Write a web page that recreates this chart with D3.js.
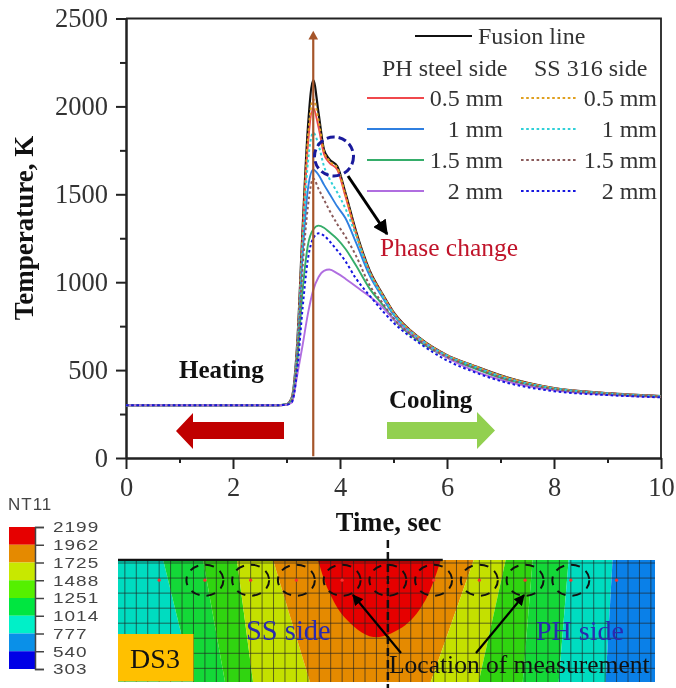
<!DOCTYPE html>
<html>
<head>
<meta charset="utf-8">
<script src="https://cdn.jsdelivr.net/npm/d3@7"></script>
<style>
  html, body { margin: 0; padding: 0; background: #fff; }
  svg { display: block; filter: blur(0.45px); font-family: "Liberation Serif", serif; }
</style>
</head>
<body>
<div id="chart"></div>
<script>
// Values
const time = [0, 2.8, 3.0, 3.1, 3.2, 3.3, 3.4, 3.5, 3.6, 3.7, 3.8, 3.95, 4.1, 4.3, 4.55, 4.8, 5.0, 5.5, 6, 6.5, 7, 8, 9, 10];
const fusion = [300, 300, 305, 345, 650, 1300, 1880, 2150, 1960, 1755, 1700, 1660, 1510, 1290, 1070, 930, 830, 680, 585, 525, 470, 398, 369, 352];
const ph05 = [300, 300, 305, 340, 630, 1250, 1780, 1990, 1880, 1730, 1680, 1640, 1490, 1275, 1062, 925, 826, 678, 584, 524, 468, 397, 368, 351];
const ph1 = [300, 300, 305, 335, 600, 1150, 1530, 1640, 1610, 1555, 1505, 1430, 1365, 1225, 1040, 910, 815, 672, 580, 520, 462, 395, 367, 350];
const ph15 = [300, 300, 304, 325, 540, 950, 1210, 1300, 1322, 1310, 1285, 1245, 1190, 1095, 965, 870, 790, 660, 572, 512, 456, 392, 365, 349];
const ph2 = [300, 300, 303, 315, 470, 640, 820, 955, 1030, 1065, 1072, 1050, 1020, 975, 920, 855, 790, 670, 570, 497, 445, 385, 360, 347];
const ss05 = [300, 300, 305, 343, 640, 1270, 1820, 2040, 1920, 1745, 1690, 1650, 1500, 1280, 1065, 927, 828, 679, 584, 524, 469, 397, 368, 351];
const ss1 = [300, 300, 305, 338, 620, 1210, 1680, 1850, 1780, 1660, 1590, 1510, 1420, 1265, 1055, 920, 822, 676, 582, 522, 465, 396, 367, 350];
const ss15 = [300, 300, 305, 330, 580, 1080, 1430, 1590, 1530, 1470, 1410, 1330, 1260, 1150, 985, 880, 795, 665, 575, 515, 458, 392, 365, 349];
const ss2 = [300, 300, 303, 318, 500, 850, 1130, 1250, 1278, 1265, 1235, 1180, 1120, 1020, 925, 835, 770, 650, 555, 490, 438, 380, 358, 345];

const distLabels = ["0.5 mm", "1 mm", "1.5 mm", "2 mm"];
const phColors = ["#f0484c", "#2f7fe0", "#35ad6a", "#b06ee0"];
const ssColors = ["#e0a020", "#30d0d8", "#8a5a5a", "#1515e0"];

const nt11Levels = [2199, 1962, 1725, 1488, 1251, 1014, 777, 540, 303];
const nt11Colors = ["#e60000", "#e58a00", "#c8e800", "#55f000", "#00e640", "#00f0c8", "#0a90e8", "#0000e6"];

// contour boundaries across the plate (mm from weld centre), top and bottom edge, left to right
const bandColors = ["#00dcc0", "#14d838", "#30d410", "#c4e000", "#e58a00", "#c4e000", "#30d410", "#14d838", "#00dcc0", "#0a80e8"];
const bandTop = [-2.95, -2.456, -2.02, -1.65, -1.255, 0.939, 1.288, 1.583, 1.976, 2.456, 2.92];
const bandBottom = [-2.95, -2.13, -1.78, -1.474, -0.852, 0.469, 0.993, 1.474, 1.867, 2.38, 2.92];
const redX = [-0.764, -0.65, -0.47, -0.16, 0.19, 0.41, 0.579];
const redDepth = [0, 0.33, 0.63, 0.84, 0.71, 0.44, 0];
const probePoints = [-2.5, -2, -1.5, -1, -0.5, 0, 0.5, 1, 1.5, 2, 2.5];
const circledPoints = [-2, -1.5, -1, -0.5, 0, 0.5, 1, 1.5, 2];

const svg = d3.select("#chart").append("svg")
    .attr("width", 676)
    .attr("height", 688);

svg.append("defs").append("marker")
    .attr("id", "head")
    .attr("viewBox", "0 0 10 10")
    .attr("refX", 9).attr("refY", 5)
    .attr("markerWidth", 5).attr("markerHeight", 5)
    .attr("orient", "auto")
    .append("path").attr("d", "M0,0L10,5L0,10Z").attr("fill", "#000");

// Scales del gráfico
const x = d3.scaleLinear().domain([0, 10]).range([126, 661]);
const y = d3.scaleLinear().domain([0, 2500]).range([458, 18.5]);

// Frame
svg.append("path")
    .attr("d", `M${x(0)},${y(2500)}H${x(10)}V${y(0)}`)
    .attr("fill", "none").attr("stroke", "#222").attr("stroke-width", 1.8);

function styleAxis(g) {
    g.selectAll("line").attr("stroke", "#222").attr("stroke-width", 2);
    g.selectAll("path").attr("stroke", "#222").attr("stroke-width", 2);
    g.selectAll("text").attr("fill", "#333").style("font-family", "Liberation Serif").style("font-size", "26.5px");
}

// Minor ticks first, then major
svg.append("g").attr("transform", `translate(0,${y(0)})`)
    .call(d3.axisBottom(x).tickValues([1, 3, 5, 7, 9]).tickSize(5).tickFormat("").tickSizeOuter(0))
    .call(styleAxis);
svg.append("g").attr("transform", `translate(${x(0)},0)`)
    .call(d3.axisLeft(y).tickValues([250, 750, 1250, 1750, 2250]).tickSize(6).tickFormat("").tickSizeOuter(0))
    .call(styleAxis);
svg.append("g").attr("transform", `translate(0,${y(0)})`)
    .call(d3.axisBottom(x).tickValues([0, 2, 4, 6, 8, 10]).tickSize(11).tickPadding(8).tickSizeOuter(0))
    .call(styleAxis);
svg.append("g").attr("transform", `translate(${x(0)},0)`)
    .call(d3.axisLeft(y).tickValues([0, 500, 1000, 1500, 2000, 2500]).tickSize(10).tickPadding(8).tickFormat(d3.format("d")).tickSizeOuter(0))
    .call(styleAxis);

svg.append("text")
    .attr("transform", `translate(33,228) rotate(-90)`)
    .attr("text-anchor", "middle")
    .style("font-weight", "bold").style("font-size", "27px").attr("fill", "#111")
    .text("Temperature, K");
svg.append("text")
    .attr("x", 388.5).attr("y", 531)
    .attr("text-anchor", "middle")
    .style("font-weight", "bold").style("font-size", "26.5px").attr("fill", "#111")
    .text("Time, sec");

// Curvas
const line = d3.line().x((d, i) => x(time[i])).y(d => y(d)).curve(d3.curveMonotoneX);
const addCurve = (values, color, width, dash) => svg.append("path")
    .datum(values)
    .attr("fill", "none")
    .attr("stroke", color)
    .attr("stroke-width", width)
    .attr("stroke-dasharray", dash)
    .attr("d", line);

addCurve(fusion, "#111", 2.2, null);
[ph05, ph1, ph15, ph2].forEach((v, i) => addCurve(v, phColors[i], 1.9, null));
[ss05, ss1, ss15, ss2].forEach((v, i) => addCurve(v, ssColors[i], 2, "2.6 2.6"));

// Brown weld line with arrow head
svg.append("line")
    .attr("x1", x(3.5)).attr("x2", x(3.5))
    .attr("y1", y(10)).attr("y2", y(2385))
    .attr("stroke", "#a5552a").attr("stroke-width", 2.2);
svg.append("path")
    .attr("d", d3.line()([[x(3.5), y(2430)], [x(3.59), y(2380)], [x(3.41), y(2380)]]) + "Z")
    .attr("fill", "#a5552a");

// Legend
const legendRows = d3.scalePoint().domain(distLabels).range([98, 191]);
svg.append("line").attr("x1", 415).attr("x2", 472).attr("y1", 36).attr("y2", 36)
    .attr("stroke", "#111").attr("stroke-width", 2.2);
const legendText = (tx, ty, label, anchor) => svg.append("text")
    .attr("x", tx).attr("y", ty).attr("text-anchor", anchor || "start")
    .style("font-size", "24px").attr("fill", "#333").text(label);
legendText(478, 43.5, "Fusion line");
legendText(382, 76, "PH steel side");
legendText(534, 76, "SS 316 side");
distLabels.forEach((label, i) => {
    const ry = legendRows(label);
    svg.append("line").attr("x1", 367).attr("x2", 424).attr("y1", ry).attr("y2", ry)
        .attr("stroke", phColors[i]).attr("stroke-width", 1.9);
    svg.append("line").attr("x1", 521).attr("x2", 577).attr("y1", ry).attr("y2", ry)
        .attr("stroke", ssColors[i]).attr("stroke-width", 2).attr("stroke-dasharray", "2.6 2.6");
    legendText(503, ry + 7.5, label, "end");
    legendText(657, ry + 7.5, label, "end");
});

// Phase change note
svg.append("circle").attr("cx", 334).attr("cy", 156.5).attr("r", 19.5)
    .attr("fill", "none").attr("stroke", "#1a1a9c").attr("stroke-width", 3).attr("stroke-dasharray", "8 4");
svg.append("line").attr("x1", 348).attr("y1", 176).attr("x2", 387).attr("y2", 234)
    .attr("stroke", "#000").attr("stroke-width", 3).attr("marker-end", "url(#head)");
svg.append("text").attr("x", 380).attr("y", 256)
    .style("font-size", "25.5px").attr("fill", "#c0142a").text("Phase change");

// Heating and cooling arrows
svg.append("text").attr("x", 179).attr("y", 378)
    .style("font-size", "25px").style("font-weight", "bold").attr("fill", "#111").text("Heating");
svg.append("text").attr("x", 389).attr("y", 408)
    .style("font-size", "25px").style("font-weight", "bold").attr("fill", "#111").text("Cooling");
svg.append("path").attr("fill", "#c00000")
    .attr("d", "M284,422H193V413L176,431L193,449V439H284Z");
svg.append("path").attr("fill", "#92d050")
    .attr("d", "M387,422H477V412L495,430.5L477,449V439H387Z");

// NT11 legend bar
const legendY = d3.scaleLinear().domain([303, 2199]).range([669, 527]);
svg.append("text").attr("x", 8).attr("y", 510)
    .style("font-family", "Liberation Sans").style("font-size", "17px").style("letter-spacing", "1px")
    .attr("fill", "#444").text("NT11");
nt11Colors.forEach((c, i) => {
    svg.append("rect")
        .attr("x", 9).attr("width", 26)
        .attr("y", legendY(nt11Levels[i]))
        .attr("height", legendY(nt11Levels[i + 1]) - legendY(nt11Levels[i]))
        .attr("fill", c);
});
svg.append("g").attr("transform", "translate(35,0)")
    .call(d3.axisRight(legendY).tickValues(nt11Levels).tickSize(9).tickPadding(9).tickFormat(d3.format("d")))
    .call(g => {
        g.select("path").attr("stroke", "#444").attr("stroke-width", 1.5);
        g.selectAll("line").attr("stroke", "#444").attr("stroke-width", 1.5);
        // digits are stretched wide in the picture and the rows are tight
        g.selectAll("text").attr("fill", "#444")
            .attr("x", 0)
            .attr("transform", "translate(18,0) scale(1.25,1)")
            .style("font-family", "Liberation Sans").style("font-size", "15.2px").style("letter-spacing", "0.8px");
    });

// Contour map of the plate
const px = d3.scaleLinear().domain([-2.95, 2.92]).range([118, 655]);
const pd = d3.scaleLinear().domain([0, 1.33]).range([560, 682]);
bandColors.forEach((c, i) => {
    const pts = [[px(bandTop[i]), pd(0)], [px(bandTop[i + 1]), pd(0)], [px(bandBottom[i + 1]), pd(1.33)], [px(bandBottom[i]), pd(1.33)]];
    svg.append("path").attr("d", d3.line()(pts) + "Z").attr("fill", c);
});
svg.append("path")
    .attr("d", d3.line().curve(d3.curveCatmullRom)(redX.map((v, i) => [px(v), pd(redDepth[i])])) + "Z")
    .attr("fill", "#e60000");

// Mesh
const mesh = svg.append("g").attr("stroke", "#222").attr("stroke-width", 1).attr("stroke-opacity", 0.65);
d3.range(-2.875, 2.92, 0.125).forEach(m => {
    mesh.append("line").attr("x1", px(m)).attr("x2", px(m)).attr("y1", pd(0)).attr("y2", pd(1.33));
});
d3.range(0.033, 1.33, 0.164).forEach(m => {
    mesh.append("line").attr("x1", px(-2.95)).attr("x2", px(2.92)).attr("y1", pd(m)).attr("y2", pd(m));
});
svg.append("line").attr("x1", px(-2.95)).attr("x2", px(0.6)).attr("y1", pd(0)).attr("y2", pd(0))
    .attr("stroke", "#111").attr("stroke-width", 2.5);

// Probes
svg.selectAll(".probe").data(probePoints).enter().append("circle")
    .attr("class", "probe")
    .attr("cx", d => px(d)).attr("cy", pd(0.22)).attr("r", 1.6).attr("fill", "#ff3030");
svg.selectAll(".ring").data(circledPoints).enter().append("ellipse")
    .attr("class", "ring")
    .attr("cx", d => px(d)).attr("cy", pd(0.22))
    .attr("rx", 18.5).attr("ry", 15.5)
    .attr("fill", "none").attr("stroke", "#111").attr("stroke-width", 2).attr("stroke-dasharray", "9 7");

// Centre line
svg.append("line").attr("x1", px(0)).attr("x2", px(0)).attr("y1", 540).attr("y2", 688)
    .attr("stroke", "#111").attr("stroke-width", 2.5).attr("stroke-dasharray", "8 4");

// DS3 box and side labels
svg.append("rect").attr("x", 118).attr("y", 634).attr("width", 75.5).attr("height", 47.5).attr("fill", "#ffc000");
svg.append("text").attr("x", 155).attr("y", 668).attr("text-anchor", "middle")
    .style("font-size", "28px").attr("fill", "#111").text("DS3");
svg.append("text").attr("x", 246).attr("y", 640)
    .style("font-size", "28.5px").attr("fill", "#2a2ab0").text("SS side");
svg.append("text").attr("x", 536).attr("y", 640)
    .style("font-size", "28px").attr("fill", "#2a2ab0").text("PH side");

// Location arrows and label
svg.append("line").attr("x1", 401).attr("y1", 653).attr("x2", 353).attr("y2", 595)
    .attr("stroke", "#000").attr("stroke-width", 2.2).attr("marker-end", "url(#head)");
svg.append("line").attr("x1", 476).attr("y1", 653).attr("x2", 524).attr("y2", 595)
    .attr("stroke", "#000").attr("stroke-width", 2.2).attr("marker-end", "url(#head)");
svg.append("text").attr("x", 389).attr("y", 673)
    .style("font-size", "25.5px").attr("fill", "#111").text("Location of measurement");
</script>
</body>
</html>
